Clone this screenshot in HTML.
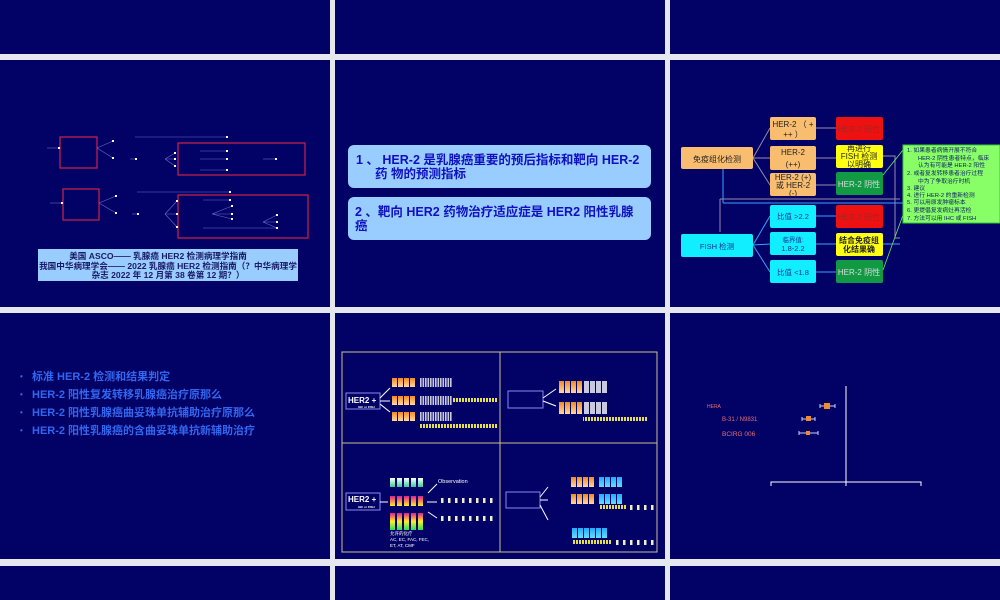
<!DOCTYPE html>
<html><head><meta charset="utf-8"><style>
html,body{margin:0;padding:0;background:#e6e6ee;}
svg{display:block;font-family:"Liberation Sans","Noto Sans CJK SC",sans-serif;}
</style></head><body>
<svg width="1000" height="600" viewBox="0 0 1000 600" xmlns="http://www.w3.org/2000/svg">
<defs>
<linearGradient id="og" x1="0" y1="0" x2="0" y2="1"><stop offset="0" stop-color="#f08a20"/><stop offset="1" stop-color="#ffd8a0"/></linearGradient>
<linearGradient id="rb" x1="0" y1="0" x2="0" y2="1"><stop offset="0" stop-color="#e0208c"/><stop offset="0.5" stop-color="#ffee22"/><stop offset="1" stop-color="#22dd66"/></linearGradient>
<linearGradient id="my" x1="0" y1="0" x2="0" y2="1"><stop offset="0" stop-color="#e0208c"/><stop offset="1" stop-color="#ffee22"/></linearGradient>
<linearGradient id="mn" x1="0" y1="0" x2="0" y2="1"><stop offset="0" stop-color="#ffffff"/><stop offset="1" stop-color="#33cc99"/></linearGradient>
<linearGradient id="bl" x1="0" y1="0" x2="0" y2="1"><stop offset="0" stop-color="#22aaff"/><stop offset="1" stop-color="#66ddff"/></linearGradient>
<pattern id="ys" width="3" height="4" patternUnits="userSpaceOnUse"><rect width="2" height="4" fill="#e8e040"/></pattern>
<pattern id="gs" width="2.5" height="9" patternUnits="userSpaceOnUse"><rect width="1.6" height="9" fill="#c8c8e0"/></pattern>
<pattern id="dt" width="7" height="6" patternUnits="userSpaceOnUse"><rect width="2.5" height="6" fill="#f0f0c8"/></pattern>
</defs>
<g fill="#020266">
<rect x="0" y="0" width="330" height="54"/><rect x="335" y="0" width="330" height="54"/><rect x="670" y="0" width="330" height="54"/>
<rect x="0" y="60" width="330" height="247"/><rect x="335" y="60" width="330" height="247"/><rect x="670" y="60" width="330" height="247"/>
<rect x="0" y="313" width="330" height="246"/><rect x="335" y="313" width="330" height="246"/><rect x="670" y="313" width="330" height="246"/>
<rect x="0" y="566" width="330" height="34"/><rect x="335" y="566" width="330" height="34"/><rect x="670" y="566" width="330" height="34"/>
</g>

<g fill="none" stroke="#c0204a" stroke-width="1.3">
<rect x="60" y="137" width="37" height="31"/><rect x="178" y="143" width="127" height="32"/>
<rect x="63" y="189" width="36" height="31"/><rect x="178" y="195" width="130" height="43"/>
</g>
<g stroke="#6a6acc" stroke-width="0.6" fill="none">
<line x1="47" y1="148" x2="58" y2="148"/><line x1="50" y1="203" x2="61" y2="203"/>
<line x1="135" y1="137" x2="228" y2="137"/><line x1="137" y1="192" x2="230" y2="192"/>
<path d="M97 148 L113 141 M97 148 L113 158"/><path d="M99 203 L116 196 M99 203 L116 213"/>
<line x1="130" y1="159" x2="137" y2="159"/><line x1="132" y1="214" x2="139" y2="214"/>
<path d="M165 159 L175 153 M165 159 L175 159 M165 159 L175 166"/>
<path d="M165 214 L177 201 M165 214 L177 214 M165 214 L177 227"/>
<line x1="200" y1="151" x2="228" y2="151"/><line x1="200" y1="159" x2="228" y2="159"/><line x1="200" y1="170" x2="228" y2="170"/>
<line x1="263" y1="159" x2="277" y2="159"/>
<line x1="203" y1="200" x2="230" y2="200"/><line x1="203" y1="228" x2="277" y2="228"/>
<path d="M212 214 L232 206 M212 214 L232 214 M212 214 L232 219"/>
<path d="M263 222 L277 215 M263 222 L277 222 M263 222 L277 228"/>
</g>
<g fill="#ffffff">
<rect x="112" y="140" width="2" height="2"/><rect x="112" y="157" width="2" height="2"/><rect x="58" y="147" width="2" height="2"/>
<rect x="135" y="158" width="2" height="2"/><rect x="174" y="152" width="2" height="2"/><rect x="174" y="158" width="2" height="2"/><rect x="174" y="165" width="2" height="2"/>
<rect x="226" y="136" width="2" height="2"/><rect x="226" y="150" width="2" height="2"/><rect x="226" y="158" width="2" height="2"/><rect x="226" y="169" width="2" height="2"/><rect x="275" y="158" width="2" height="2"/>
<rect x="115" y="195" width="2" height="2"/><rect x="115" y="212" width="2" height="2"/><rect x="61" y="202" width="2" height="2"/><rect x="137" y="213" width="2" height="2"/>
<rect x="176" y="200" width="2" height="2"/><rect x="176" y="213" width="2" height="2"/><rect x="176" y="226" width="2" height="2"/>
<rect x="229" y="191" width="2" height="2"/><rect x="229" y="199" width="2" height="2"/><rect x="231" y="205" width="2" height="2"/><rect x="231" y="213" width="2" height="2"/><rect x="231" y="218" width="2" height="2"/>
<rect x="276" y="214" width="2" height="2"/><rect x="276" y="221" width="2" height="2"/><rect x="276" y="227" width="2" height="2"/>
</g>
<rect x="38" y="249" width="260" height="32" fill="#99ccff"/>
<g font-size="8.6" fill="#1a1a66" text-anchor="middle" font-weight="bold">
<text x="158" y="259">美国 ASCO—— 乳腺癌 HER2 检测病理学指南</text>
<text x="168" y="269">我国中华病理学会—— 2022 乳腺癌 HER2 检测指南（？中华病理学</text>
<text x="168" y="278">杂志 2022 年 12 月第 38 卷第 12 期？）</text>
</g>

<rect x="348" y="145" width="303" height="43" rx="6" fill="#99ccff"/>
<rect x="348" y="197" width="303" height="43" rx="6" fill="#99ccff"/>
<g font-size="12.5" fill="#1010c0" font-weight="bold">
<text x="356" y="164">1 、 HER-2 是乳腺癌重要的预后指标和靶向 HER-2</text>
<text x="375" y="178">药 物的预测指标</text>
<text x="355" y="216">2 、靶向 HER2 药物治疗适应症是 HER2 阳性乳腺</text>
<text x="355" y="230">癌</text>
</g>

<g stroke="#9a8aaa" stroke-width="1" fill="none">
<path d="M753 158 L770 128 M753 158 L770 158 M753 158 L770 185"/>
<line x1="816" y1="128" x2="836" y2="128"/><line x1="816" y1="158" x2="836" y2="158"/><line x1="816" y1="185" x2="836" y2="185"/>
<path d="M883 156 L895 156 L895 238 L900 238"/>
<line x1="720" y1="199" x2="900" y2="199"/>
<line x1="720" y1="199" x2="720" y2="232"/>
</g>
<g stroke="#3aa0ff" stroke-width="1" fill="none">
<line x1="723" y1="169" x2="723" y2="203"/><line x1="723" y1="203" x2="903" y2="203"/>
<path d="M753 245 L770 216 M753 245 L770 244 M753 245 L770 272"/>
<line x1="816" y1="216" x2="836" y2="216"/><line x1="816" y1="244" x2="836" y2="244"/><line x1="816" y1="272" x2="836" y2="272"/>
<line x1="883" y1="244" x2="900" y2="244"/>
</g>
<g stroke="#66ee66" stroke-width="0.8" fill="none"><path d="M883 175 L903 150 M883 270 L903 215"/></g>
<rect x="681" y="147" width="72" height="22" rx="2" fill="#f9bd70"/>
<rect x="770" y="117" width="46" height="23" rx="2" fill="#f9bd70"/>
<rect x="770" y="146" width="46" height="24" rx="2" fill="#f9bd70"/>
<rect x="770" y="173" width="46" height="23" rx="2" fill="#f9bd70"/>
<rect x="836" y="117" width="47" height="23" rx="2" fill="#ee1111"/>
<rect x="836" y="145" width="47" height="23" rx="2" fill="#ffff11"/>
<rect x="836" y="172" width="47" height="23" rx="2" fill="#119944"/>
<rect x="681" y="234" width="72" height="23" rx="2" fill="#11eeff"/>
<rect x="770" y="205" width="46" height="23" rx="2" fill="#11eeff"/>
<rect x="770" y="232" width="46" height="23" rx="2" fill="#11eeff"/>
<rect x="770" y="260" width="46" height="23" rx="2" fill="#11eeff"/>
<rect x="836" y="205" width="47" height="23" rx="2" fill="#ee1111"/>
<rect x="836" y="233" width="47" height="23" rx="2" fill="#ffff11"/>
<rect x="836" y="260" width="47" height="23" rx="2" fill="#119944"/>
<rect x="903" y="145" width="97" height="78" fill="#88ff66" stroke="#33cc33"/>
<g font-size="8" fill="#222" text-anchor="middle">
<text x="717" y="162">免疫组化检测</text>
<text x="793" y="127">HER-2 （ +</text><text x="793" y="137">++ ）</text>
<text x="793" y="155">HER-2</text><text x="793" y="167">(++)</text>
<text x="793" y="180">HER-2 (+)</text><text x="793" y="188">或 HER-2</text><text x="793" y="196">(-)</text>
<text x="859" y="132" fill="#aa2222">HER-2 阳性</text>
<text x="859" y="151">再进行</text><text x="859" y="159">FISH 检测</text><text x="859" y="167">以明确</text>
<text x="859" y="187" fill="#dddddd">HER-2 阴性</text>
<text x="859" y="220" fill="#aa2222">HER-2 阳性</text>
<text x="859" y="243" font-weight="bold">结合免疫组</text><text x="859" y="252" font-weight="bold">化结果确</text>
<text x="859" y="275" fill="#dddddd">HER-2 阴性</text>
</g>
<g font-size="7.5" fill="#1a3399" text-anchor="middle">
<text x="717" y="249">FISH 检测</text>
<text x="793" y="219">比值 &gt;2.2</text>
<text x="793" y="242" font-size="6.5">临界值:</text><text x="793" y="251">1.8-2.2</text>
<text x="793" y="275">比值 &lt;1.8</text>
</g>
<g font-size="5.8" fill="#0a1a66">
<text x="907" y="152">1. 如果患者病情开展不符合</text>
<text x="918" y="160">HER-2 阴性患者特点，临床</text>
<text x="918" y="167">认为有可能是 HER-2 阳性</text>
<text x="907" y="175">2. 或者复发转移患者治疗过程</text>
<text x="918" y="183">中为了争取治疗时机</text>
<text x="907" y="190">3. 建议</text>
<text x="907" y="197">4. 进行 HER-2 的重新检测</text>
<text x="907" y="204">5. 可以用原发肿瘤标本</text>
<text x="907" y="212">6. 更提倡复发病灶再活检</text>
<text x="907" y="220">7. 方法可以用 IHC 或 FISH</text>
</g>

<g font-size="11" fill="#3366ee" font-weight="bold">
<text x="20" y="379" font-size="8">•</text><text x="32" y="380">标准 HER-2 检测和结果判定</text>
<text x="20" y="397" font-size="8">•</text><text x="32" y="398">HER-2 阳性复发转移乳腺癌治疗原那么</text>
<text x="20" y="415" font-size="8">•</text><text x="32" y="416">HER-2 阳性乳腺癌曲妥珠单抗辅助治疗原那么</text>
<text x="20" y="433" font-size="8">•</text><text x="32" y="434">HER-2 阳性乳腺癌的含曲妥珠单抗新辅助治疗</text>
</g>

<g fill="none" stroke="#c8c090" stroke-width="1">
<rect x="342" y="352" width="315" height="200"/><line x1="500" y1="352" x2="500" y2="552"/><line x1="342" y1="443" x2="657" y2="443"/>
</g>
<g fill="none" stroke="#8888ee" stroke-width="1">
<rect x="346" y="393" width="34" height="16"/><rect x="508" y="391" width="35" height="17"/>
<rect x="346" y="493" width="34" height="17"/><rect x="506" y="492" width="34" height="16"/>
</g>
<g fill="#fff" font-weight="bold">
<text x="348" y="403" font-size="8">HER2 +</text><text x="348" y="502" font-size="8">HER2 +</text>
<text x="358" y="408" font-size="3">IHC or FISH</text><text x="358" y="508" font-size="3">IHC or FISH</text>
<text x="438" y="483" font-size="5.5" font-weight="normal">Observation</text>
</g>
<g fill="#fff" font-size="4.5"><text x="390" y="535">允许的化疗</text><text x="390" y="541">AC, EC, FAC, FEC,</text><text x="390" y="547">ET, AT, CMF</text></g>
<g stroke="#fff" stroke-width="1"><path d="M380 398 L390 388 M380 401 L390 401 M380 404 L390 412"/><path d="M543 398 L556 389 M543 401 L556 406"/><path d="M380 502 L388 502 M427 502 L437 502 M428 493 L437 484 M428 512 L437 518"/><path d="M540 497 L548 487 M540 500 L548 500 M540 505 L548 520"/></g>
<g fill="url(#og)">
<rect x="392" y="378" width="5" height="9"/><rect x="398" y="378" width="5" height="9"/><rect x="404" y="378" width="5" height="9"/><rect x="410" y="378" width="5" height="9"/>
<rect x="392" y="396" width="5" height="9"/><rect x="398" y="396" width="5" height="9"/><rect x="404" y="396" width="5" height="9"/><rect x="410" y="396" width="5" height="9"/>
<rect x="392" y="412" width="5" height="9"/><rect x="398" y="412" width="5" height="9"/><rect x="404" y="412" width="5" height="9"/><rect x="410" y="412" width="5" height="9"/>
<rect x="559" y="381" width="5" height="12"/><rect x="565" y="381" width="5" height="12"/><rect x="571" y="381" width="5" height="12"/><rect x="577" y="381" width="5" height="12"/>
<rect x="559" y="402" width="5" height="12"/><rect x="565" y="402" width="5" height="12"/><rect x="571" y="402" width="5" height="12"/><rect x="577" y="402" width="5" height="12"/>
<rect x="571" y="477" width="5" height="10"/><rect x="577" y="477" width="5" height="10"/><rect x="583" y="477" width="5" height="10"/><rect x="589" y="477" width="5" height="10"/>
<rect x="571" y="494" width="5" height="10"/><rect x="577" y="494" width="5" height="10"/><rect x="583" y="494" width="5" height="10"/><rect x="589" y="494" width="5" height="10"/>
</g>
<g fill="url(#gs)"><rect x="420" y="378" width="32" height="9"/><rect x="420" y="396" width="32" height="9"/><rect x="420" y="412" width="32" height="9"/></g>
<g fill="#c8c8e0"><rect x="584" y="381" width="5" height="12"/><rect x="590" y="381" width="5" height="12"/><rect x="596" y="381" width="5" height="12"/><rect x="602" y="381" width="5" height="12"/>
<rect x="584" y="402" width="5" height="12"/><rect x="590" y="402" width="5" height="12"/><rect x="596" y="402" width="5" height="12"/><rect x="602" y="402" width="5" height="12"/></g>
<g fill="url(#bl)"><rect x="599" y="477" width="5" height="10"/><rect x="605" y="477" width="5" height="10"/><rect x="611" y="477" width="5" height="10"/><rect x="617" y="477" width="5" height="10"/>
<rect x="599" y="494" width="5" height="10"/><rect x="605" y="494" width="5" height="10"/><rect x="611" y="494" width="5" height="10"/><rect x="617" y="494" width="5" height="10"/>
<rect x="572" y="528" width="5" height="10"/><rect x="578" y="528" width="5" height="10"/><rect x="584" y="528" width="5" height="10"/><rect x="590" y="528" width="5" height="10"/><rect x="596" y="528" width="5" height="10"/><rect x="602" y="528" width="5" height="10"/></g>
<g fill="url(#ys)"><rect x="453" y="398" width="45" height="4"/><rect x="420" y="424" width="78" height="4"/><rect x="583" y="417" width="64" height="4"/><rect x="599" y="505" width="28" height="4"/><rect x="572" y="540" width="40" height="4"/></g>
<g fill="url(#dt)"><rect x="438" y="498" width="55" height="5"/><rect x="438" y="516" width="55" height="5"/><rect x="630" y="505" width="28" height="5"/><rect x="615" y="540" width="40" height="5"/></g>
<g fill="url(#mn)"><rect x="390" y="478" width="5" height="9"/><rect x="397" y="478" width="5" height="9"/><rect x="404" y="478" width="5" height="9"/><rect x="411" y="478" width="5" height="9"/><rect x="418" y="478" width="5" height="9"/></g>
<g fill="url(#my)"><rect x="390" y="496" width="5" height="10"/><rect x="397" y="496" width="5" height="10"/><rect x="404" y="496" width="5" height="10"/><rect x="411" y="496" width="5" height="10"/><rect x="418" y="496" width="5" height="10"/></g>
<g fill="url(#rb)"><rect x="390" y="513" width="5" height="17"/><rect x="397" y="513" width="5" height="17"/><rect x="404" y="513" width="5" height="17"/><rect x="411" y="513" width="5" height="17"/><rect x="418" y="513" width="5" height="17"/></g>

<g stroke="#ffffff" stroke-width="1" fill="none">
<line x1="846" y1="386" x2="846" y2="486"/>
<path d="M771 486 L771 482 L921 482 L921 486"/>
<g stroke="#ccccff"><path d="M820 406 L835 406 M820 404 L820 408 M835 404 L835 408"/><path d="M802 419 L815 419 M802 417 L802 421 M815 417 L815 421"/><path d="M799 433 L818 433 M799 431 L799 435 M818 431 L818 435"/></g>
</g>
<g fill="#f08a30"><rect x="824" y="403" width="6" height="6"/><rect x="806" y="416" width="5" height="5"/><rect x="806" y="431" width="4" height="4"/></g>
<g fill="#e87070"><text x="707" y="408" font-size="5">HERA</text><text x="722" y="421" font-size="6">B-31 / N9831</text><text x="722" y="436" font-size="6.5">BCIRG 006</text></g>
</svg>
</body></html>
